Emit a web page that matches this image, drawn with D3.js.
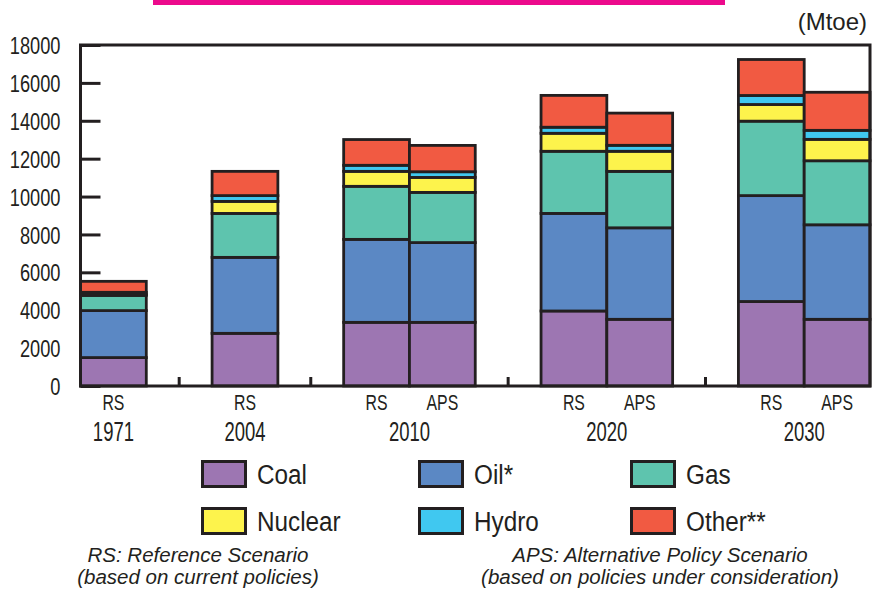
<!DOCTYPE html>
<html>
<head>
<meta charset="utf-8">
<script src="https://cdn.jsdelivr.net/npm/d3@7/dist/d3.min.js"></script>
<style>
  html, body { margin: 0; padding: 0; background: #fff; }
  svg { display: block; }
  text { font-family: "Liberation Sans", Arial, sans-serif; fill: #231f20; }
</style>
</head>
<body>
<svg id="chart" width="882" height="603"></svg>
<script>
// ---- data ----
const years = ["1971", "2004", "2010", "2020", "2030"];
const scenarios = [["RS"], ["RS"], ["RS", "APS"], ["RS", "APS"], ["RS", "APS"]];
const fuels = ["Coal", "Oil*", "Gas", "Nuclear", "Hydro", "Other**"];
// one value per bar, in order: RS1971, RS2004, RS2010, APS2010, RS2020, APS2020, RS2030, APS2030
const coal    = [1500, 2780, 3360, 3360, 3960, 3520, 4460, 3520];
const oil     = [2480, 4010, 4380, 4210, 5150, 4830, 5590, 4990];
const gas     = [800, 2320, 2800, 2650, 3280, 2980, 3930, 3380];
const nuclear = [50, 635, 790, 790, 950, 1060, 880, 1130];
const hydro   = [115, 305, 320, 300, 320, 315, 475, 475];
const other   = [580, 1280, 1360, 1390, 1680, 1700, 1900, 2010];
const yTicks  = [0, 2000, 4000, 6000, 8000, 10000, 12000, 14000, 16000, 18000];
const unitLabel = "(Mtoe)";
const noteRS  = ["RS: Reference Scenario", "(based on current policies)"];
const noteAPS = ["APS: Alternative Policy Scenario", "(based on policies under consideration)"];

// ---- styles ----
const colors = ["#9d76b2", "#5b88c4", "#5ec4ae", "#fdf34c", "#40c8f0", "#f15a42"];
const ink = "#231f20";

const svg = d3.select("#chart");

// build bars and slot domain (gap slot between year groups)
const series = [coal, oil, gas, nuclear, hydro, other];
const bars = [];
const slots = [];
let bi = 0;
years.forEach((yr, gi) => {
  scenarios[gi].forEach(sc => {
    const key = sc + " " + yr;
    const row = { key, year: yr, scen: sc, group: gi };
    fuels.forEach((f, fi) => row[f] = series[fi][bi]);
    bars.push(row);
    slots.push(key);
    bi++;
  });
  if (gi < years.length - 1) slots.push("gap" + gi);
});

const x = d3.scaleBand().domain(slots).range([80.5, 870]).padding(0);
const y = d3.scaleLinear().domain([0, 18000]).range([386, 45]);

// magenta title rule
svg.append("rect").attr("x", 153).attr("y", 0).attr("width", 572).attr("height", 5).attr("fill", "#ec0a8c");

// unit label
svg.append("text").attr("x", 867).attr("y", 22).attr("dy", "0.35em")
  .attr("text-anchor", "end").style("font-size", "24px").text(unitLabel);

// y axis
const yAxis = svg.append("g").attr("transform", "translate(80.5,0)")
  .call(d3.axisLeft(y).tickValues(yTicks).tickSize(-20).tickFormat(d3.format("d")));
yAxis.select(".domain").remove();
yAxis.selectAll(".tick line").attr("stroke", ink).attr("stroke-width", 3);
yAxis.selectAll(".tick text")
  .attr("x", null).attr("dy", "0.36em")
  .attr("transform", "translate(-20,0) scale(0.76,1)")
  .style("font-size", "24px").style("fill", ink);
yAxis.attr("font-family", null).attr("font-size", null);

// separator ticks on x axis at gap slots
svg.append("g").selectAll("line")
  .data(slots.filter(s => s.startsWith("gap")))
  .join("line")
  .attr("x1", d => x(d) + x.bandwidth() / 2).attr("x2", d => x(d) + x.bandwidth() / 2)
  .attr("y1", y(0)).attr("y2", y(0) - 9)
  .attr("stroke", ink).attr("stroke-width", 3);

// stacked bars
const stack = d3.stack().keys(fuels)(bars);
const layers = svg.append("g").selectAll("g").data(stack).join("g")
  .attr("fill", (d, i) => colors[i]);
layers.selectAll("rect").data(d => d).join("rect")
  .attr("x", d => x(d.data.key))
  .attr("width", x.bandwidth())
  .attr("y", d => y(d[1]))
  .attr("height", d => y(d[0]) - y(d[1]))
  .attr("stroke", ink).attr("stroke-width", 2.8);

// frame
svg.append("rect").attr("x", 80.5).attr("y", 45).attr("width", 870 - 80.5).attr("height", 386 - 45)
  .attr("fill", "none").attr("stroke", ink).attr("stroke-width", 3);

// x labels: scenario
svg.append("g").selectAll("text").data(bars).join("text")
  .attr("transform", d => `translate(${x(d.key) + x.bandwidth() / 2},402) scale(0.72,1)`)
  .attr("dy", "0.36em").attr("text-anchor", "middle")
  .style("font-size", "22px").text(d => d.scen);

// x labels: year (centered under its group)
svg.append("g").selectAll("text").data(years).join("text")
  .attr("transform", (yr, gi) => {
    const keys = bars.filter(b => b.group === gi).map(b => b.key);
    const cx = (x(keys[0]) + x(keys[keys.length - 1]) + x.bandwidth()) / 2;
    return `translate(${cx},431) scale(0.66,1)`;
  })
  .attr("dy", "0.36em").attr("text-anchor", "middle")
  .style("font-size", "28px").text(d => d);

// legend
const legX = [201, 418, 630];
const legY = [460, 507];
const leg = svg.append("g").selectAll("g").data(fuels).join("g")
  .attr("transform", (d, i) => `translate(${legX[i % 3]},${legY[Math.floor(i / 3)]})`);
leg.append("rect").attr("x", 1.5).attr("y", 1.5).attr("width", 43).attr("height", 25)
  .attr("fill", (d, i) => colors[i]).attr("stroke", ink).attr("stroke-width", 3);
leg.append("text")
  .attr("transform", "translate(56,14.5) scale(0.9,1)")
  .attr("dy", "0.36em").style("font-size", "27px").text(d => d);

// footnotes
const notes = svg.append("g").style("font-style", "italic").style("font-size", "20.5px");
noteRS.forEach((t, i) => notes.append("text").attr("x", 198).attr("y", 562 + i * 22)
  .attr("text-anchor", "middle").text(t));
noteAPS.forEach((t, i) => notes.append("text").attr("x", 660).attr("y", 562 + i * 22)
  .attr("text-anchor", "middle").text(t));
</script>
</body>
</html>
